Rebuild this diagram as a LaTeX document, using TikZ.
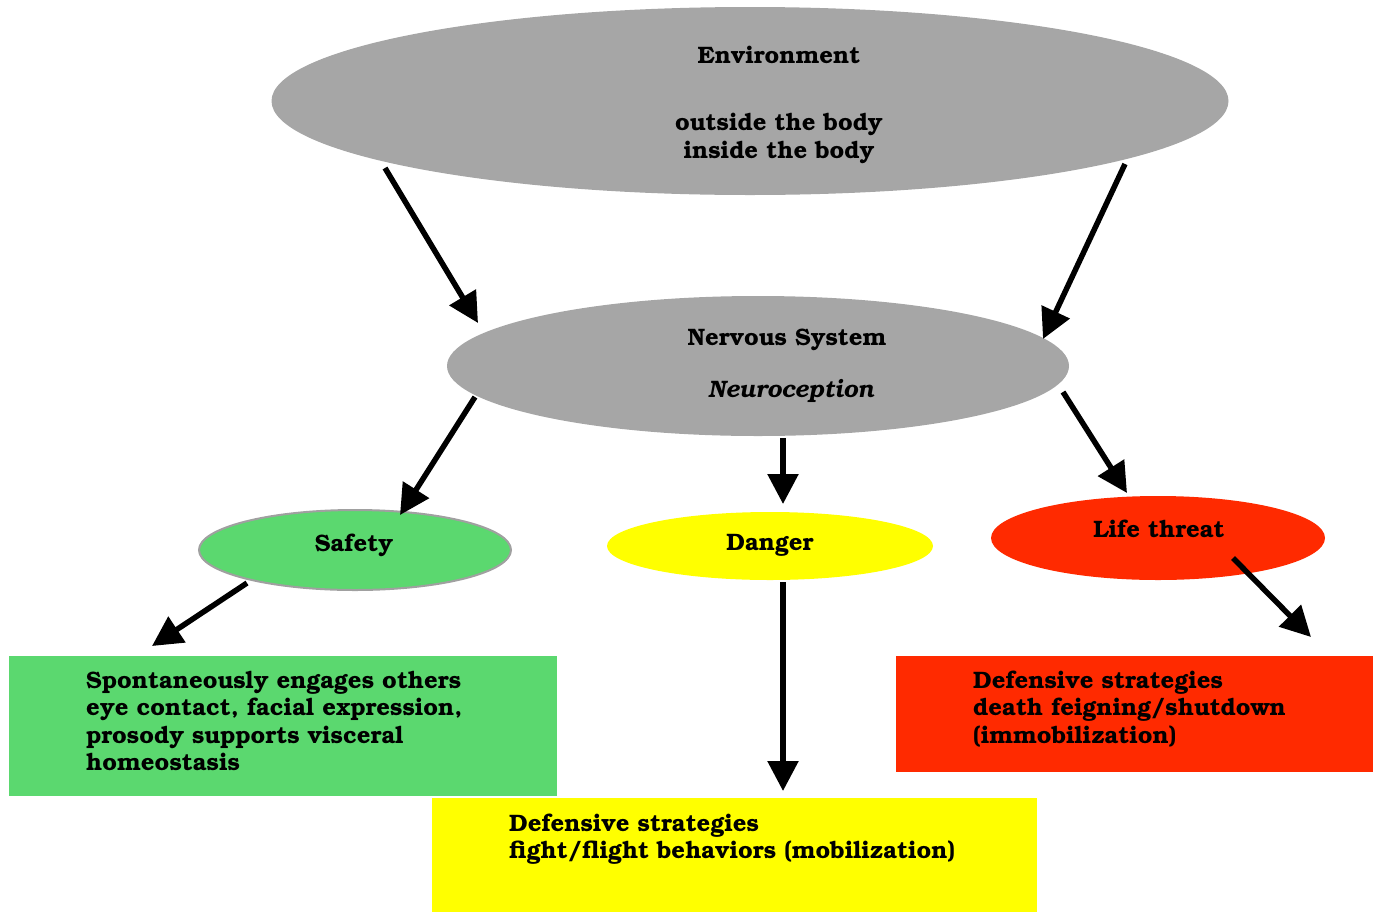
\documentclass[tikz,border=0pt]{standalone}
\usepackage[T1]{fontenc}
\usepackage{bookman}
\usetikzlibrary{arrows.meta,shapes.geometric}
\definecolor{envgray}{HTML}{A6A6A6}
\definecolor{safegreen}{HTML}{5BD86F}
\definecolor{dangeryellow}{HTML}{FFFF00}
\definecolor{threatred}{HTML}{FF2A00}
\definecolor{rimgray}{HTML}{A0A0A0}
\begin{document}
\begin{tikzpicture}[x=1pt,y=-1pt,
  blob/.style={ellipse, draw=none, inner sep=0pt},
  panel/.style={rectangle, draw=none, inner sep=0pt, anchor=north west},
  lbl/.style={font=\fontsize{23.8}{27.6}\selectfont\bfseries, inner sep=0pt, anchor=base},
  para/.style={font=\fontsize{23.8}{27.6}\selectfont\bfseries, inner sep=0pt, anchor=base west},
  arr/.style={line width=5.5pt, -{Triangle[length=30pt,width=30pt]}}]
\useasboundingbox (0,0) rectangle (1374,911);

% ellipses
\node[blob, fill=envgray, minimum width=957pt, minimum height=188pt] (env) at (750,101) {};
\node[blob, fill=envgray, minimum width=622pt, minimum height=140pt] (ns) at (758,366) {};
\node[blob, fill=safegreen, draw=rimgray, line width=2pt, minimum width=312pt, minimum height=80pt] (safe) at (355,550) {};
\node[blob, fill=dangeryellow, minimum width=326pt, minimum height=68pt] (danger) at (770,546) {};
\node[blob, fill=threatred, minimum width=334pt, minimum height=84pt] (threat) at (1158,538) {};

% outcome panels
\node[panel, fill=safegreen, minimum width=548pt, minimum height=140pt] (social) at (9,656) {};
\node[panel, fill=dangeryellow, minimum width=605pt, minimum height=115pt] (mobil) at (432,798) {};
\node[panel, fill=threatred, minimum width=477pt, minimum height=116pt] (immob) at (896,656) {};

% labels
\node[lbl] (envT) at (779,63) {Environment};
\node[lbl] (envA) at (779,130) {outside the body};
\node[lbl] (envB) at (779,158) {inside the body};
\node[lbl] (nsT) at (787,345) {Nervous System};
\node[lbl] (nsB) at (791,397) {\itshape Neuroception};
\node[lbl] (safeT) at (354,551) {Safety};
\node[lbl] (dangerT) at (770,550) {Danger};
\node[lbl] (threatT) at (1159,537) {Life threat};

\node[para] (socialT) at (86,688) {\parbox[t]{460pt}{\raggedright
  Spontaneously engages others\\eye contact, facial expression,\\prosody supports visceral\\homeostasis}};
\node[para] (mobilT) at (509,831) {\parbox[t]{560pt}{\raggedright
  Defensive strategies\\fight/flight behaviors (mobilization)}};
\node[para] (immobT) at (973,688) {\parbox[t]{390pt}{\raggedright
  Defensive strategies\\death feigning/shutdown\\(immobilization)}};

% arrow ends
\coordinate (a1s) at (385,168);  \coordinate (a1e) at (478,323);
\coordinate (a2s) at (1125,164); \coordinate (a2e) at (1043,339);
\coordinate (a3s) at (475,397);  \coordinate (a3e) at (400,515);
\coordinate (a4s) at (783,438);  \coordinate (a4e) at (783,504);
\coordinate (a5s) at (1063,392); \coordinate (a5e) at (1127,493);
\coordinate (a6s) at (247,583);  \coordinate (a6e) at (152,646);
\coordinate (a7s) at (783,582);  \coordinate (a7e) at (783,791);
\coordinate (a8s) at (1233,558); \coordinate (a8e) at (1311,637);

\draw[arr] (a1s) -- (a1e);
\draw[arr] (a2s) -- (a2e);
\draw[arr] (a3s) -- (a3e);
\draw[arr] (a4s) -- (a4e);
\draw[arr] (a5s) -- (a5e);
\draw[arr] (a6s) -- (a6e);
\draw[arr] (a7s) -- (a7e);
\draw[arr] (a8s) -- (a8e);
\end{tikzpicture}
\end{document}
